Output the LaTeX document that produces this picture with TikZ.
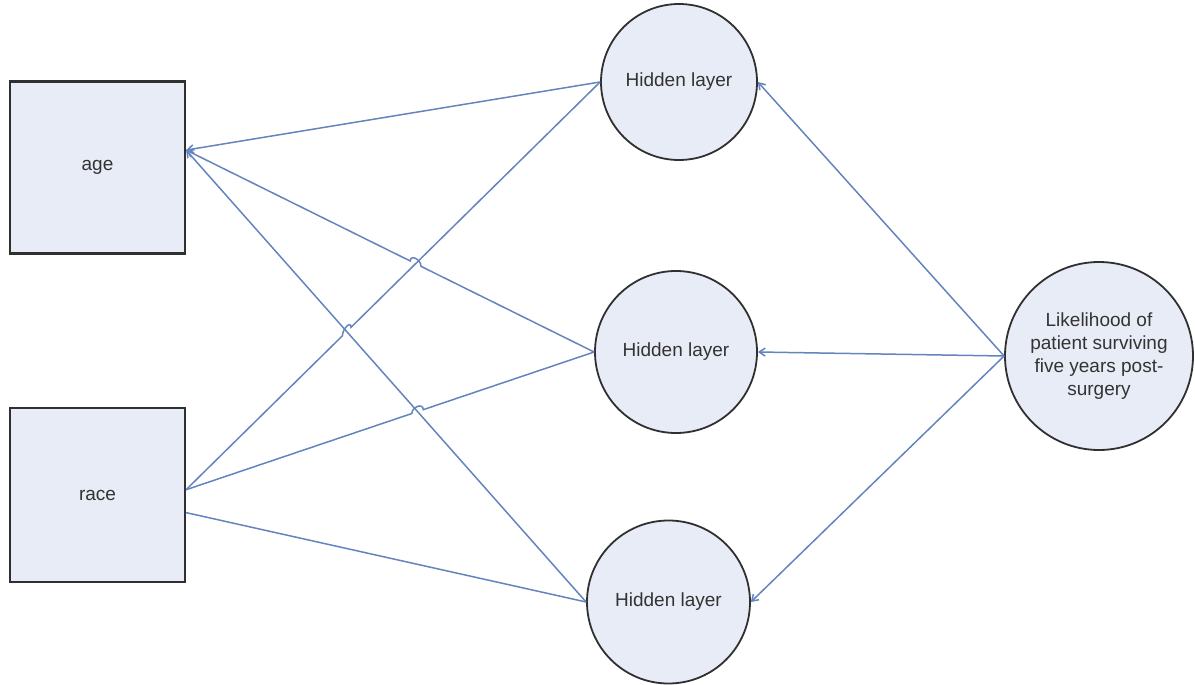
\documentclass[tikz,border=0pt]{standalone}
\usepackage{fontspec}
\setmainfont{Liberation Sans}
\usetikzlibrary{calc,arrows.meta,intersections}
\definecolor{nodefill}{HTML}{E8ECF7}
\definecolor{nodeline}{HTML}{303030}
\definecolor{connline}{HTML}{6384BD}
\definecolor{txt}{HTML}{333333}
\tikzset{
  inbox/.style={draw=nodeline, line width=1.1pt, fill=nodefill, minimum width=87.5pt, minimum height=86pt, inner sep=0pt, text=txt, font=\fontsize{9.5}{11.5}\selectfont},
  hid/.style={circle, draw=nodeline, line width=0.9pt, fill=nodefill, inner sep=0pt, text=txt, font=\fontsize{9.5}{11.5}\selectfont},
  conn/.style={draw=connline, line width=0.75pt},
  tohead/.style={-{Straight Barb[length=3pt,width=4pt]}}
}
\begin{document}
\begin{tikzpicture}[x=0.5pt,y=-0.5pt]
\useasboundingbox (0,0) rectangle (1195,685);
\node[inbox] (age) at (97.5,167.5) {age};
\node[inbox, minimum height=87pt] (race) at (97.5,495) {race};
\node[hid, minimum size=78pt] (h1) at (679,82) {Hidden layer};
\node[hid, minimum size=81pt] (h2) at (676,352) {Hidden layer};
\node[hid, minimum size=81.5pt] (h3) at (668.5,602) {Hidden layer};
\node[hid, minimum size=94pt, align=center] (out) at (1099,356) {Likelihood of\\patient surviving\\five years post-\\surgery};
\coordinate (ageA) at ($(age.north east)!0.4!(age.south east)$);
\coordinate (raceA) at ($(race.north east)!0.47!(race.south east)$);
\coordinate (raceB) at ($(race.north east)!0.6!(race.south east)$);
% crossing points
\path[name path=ah2] (ageA) -- (h2.west);
\path[name path=ah3] (ageA) -- (h3.west);
\path[name path=rh1] (raceA) -- (h1.west);
\path[name path=rh2] (raceA) -- (h2.west);
\path[name intersections={of=ah2 and rh1, by=X1}];
\path[name intersections={of=ah3 and rh1, by=X2}];
\path[name intersections={of=ah3 and rh2, by=X3}];
% hidden to inputs
\draw[conn,tohead] (h1.west) -- (ageA);
\draw[conn,tohead] (h2.west) -- ($(X1)!3pt!(h2.west)$)
  .. controls ($($(X1)!3pt!(h2.west)$)+(0,-7)$) and ($($(X1)!3pt!(ageA)$)+(0,-7)$) .. ($(X1)!3pt!(ageA)$) -- (ageA);
\draw[conn,tohead] (h3.west) -- (ageA);
\draw[conn] (raceA) -- ($(X2)!3pt!(raceA)$)
  .. controls ($($(X2)!3pt!(raceA)$)+(0,-7)$) and ($($(X2)!3pt!(h1.west)$)+(0,-7)$) .. ($(X2)!3pt!(h1.west)$) -- (h1.west);
\draw[conn] (raceA) -- ($(X3)!3pt!(raceA)$)
  .. controls ($($(X3)!3pt!(raceA)$)+(0,-7)$) and ($($(X3)!3pt!(h2.west)$)+(0,-7)$) .. ($(X3)!3pt!(h2.west)$) -- (h2.west);
\draw[conn] (raceB) -- (h3.west);
% output to hidden
\draw[conn,tohead] (out.west) -- (h1.east);
\draw[conn,tohead] (out.west) -- (h2.east);
\draw[conn,tohead] (out.west) -- (h3.east);
\end{tikzpicture}
\end{document}
